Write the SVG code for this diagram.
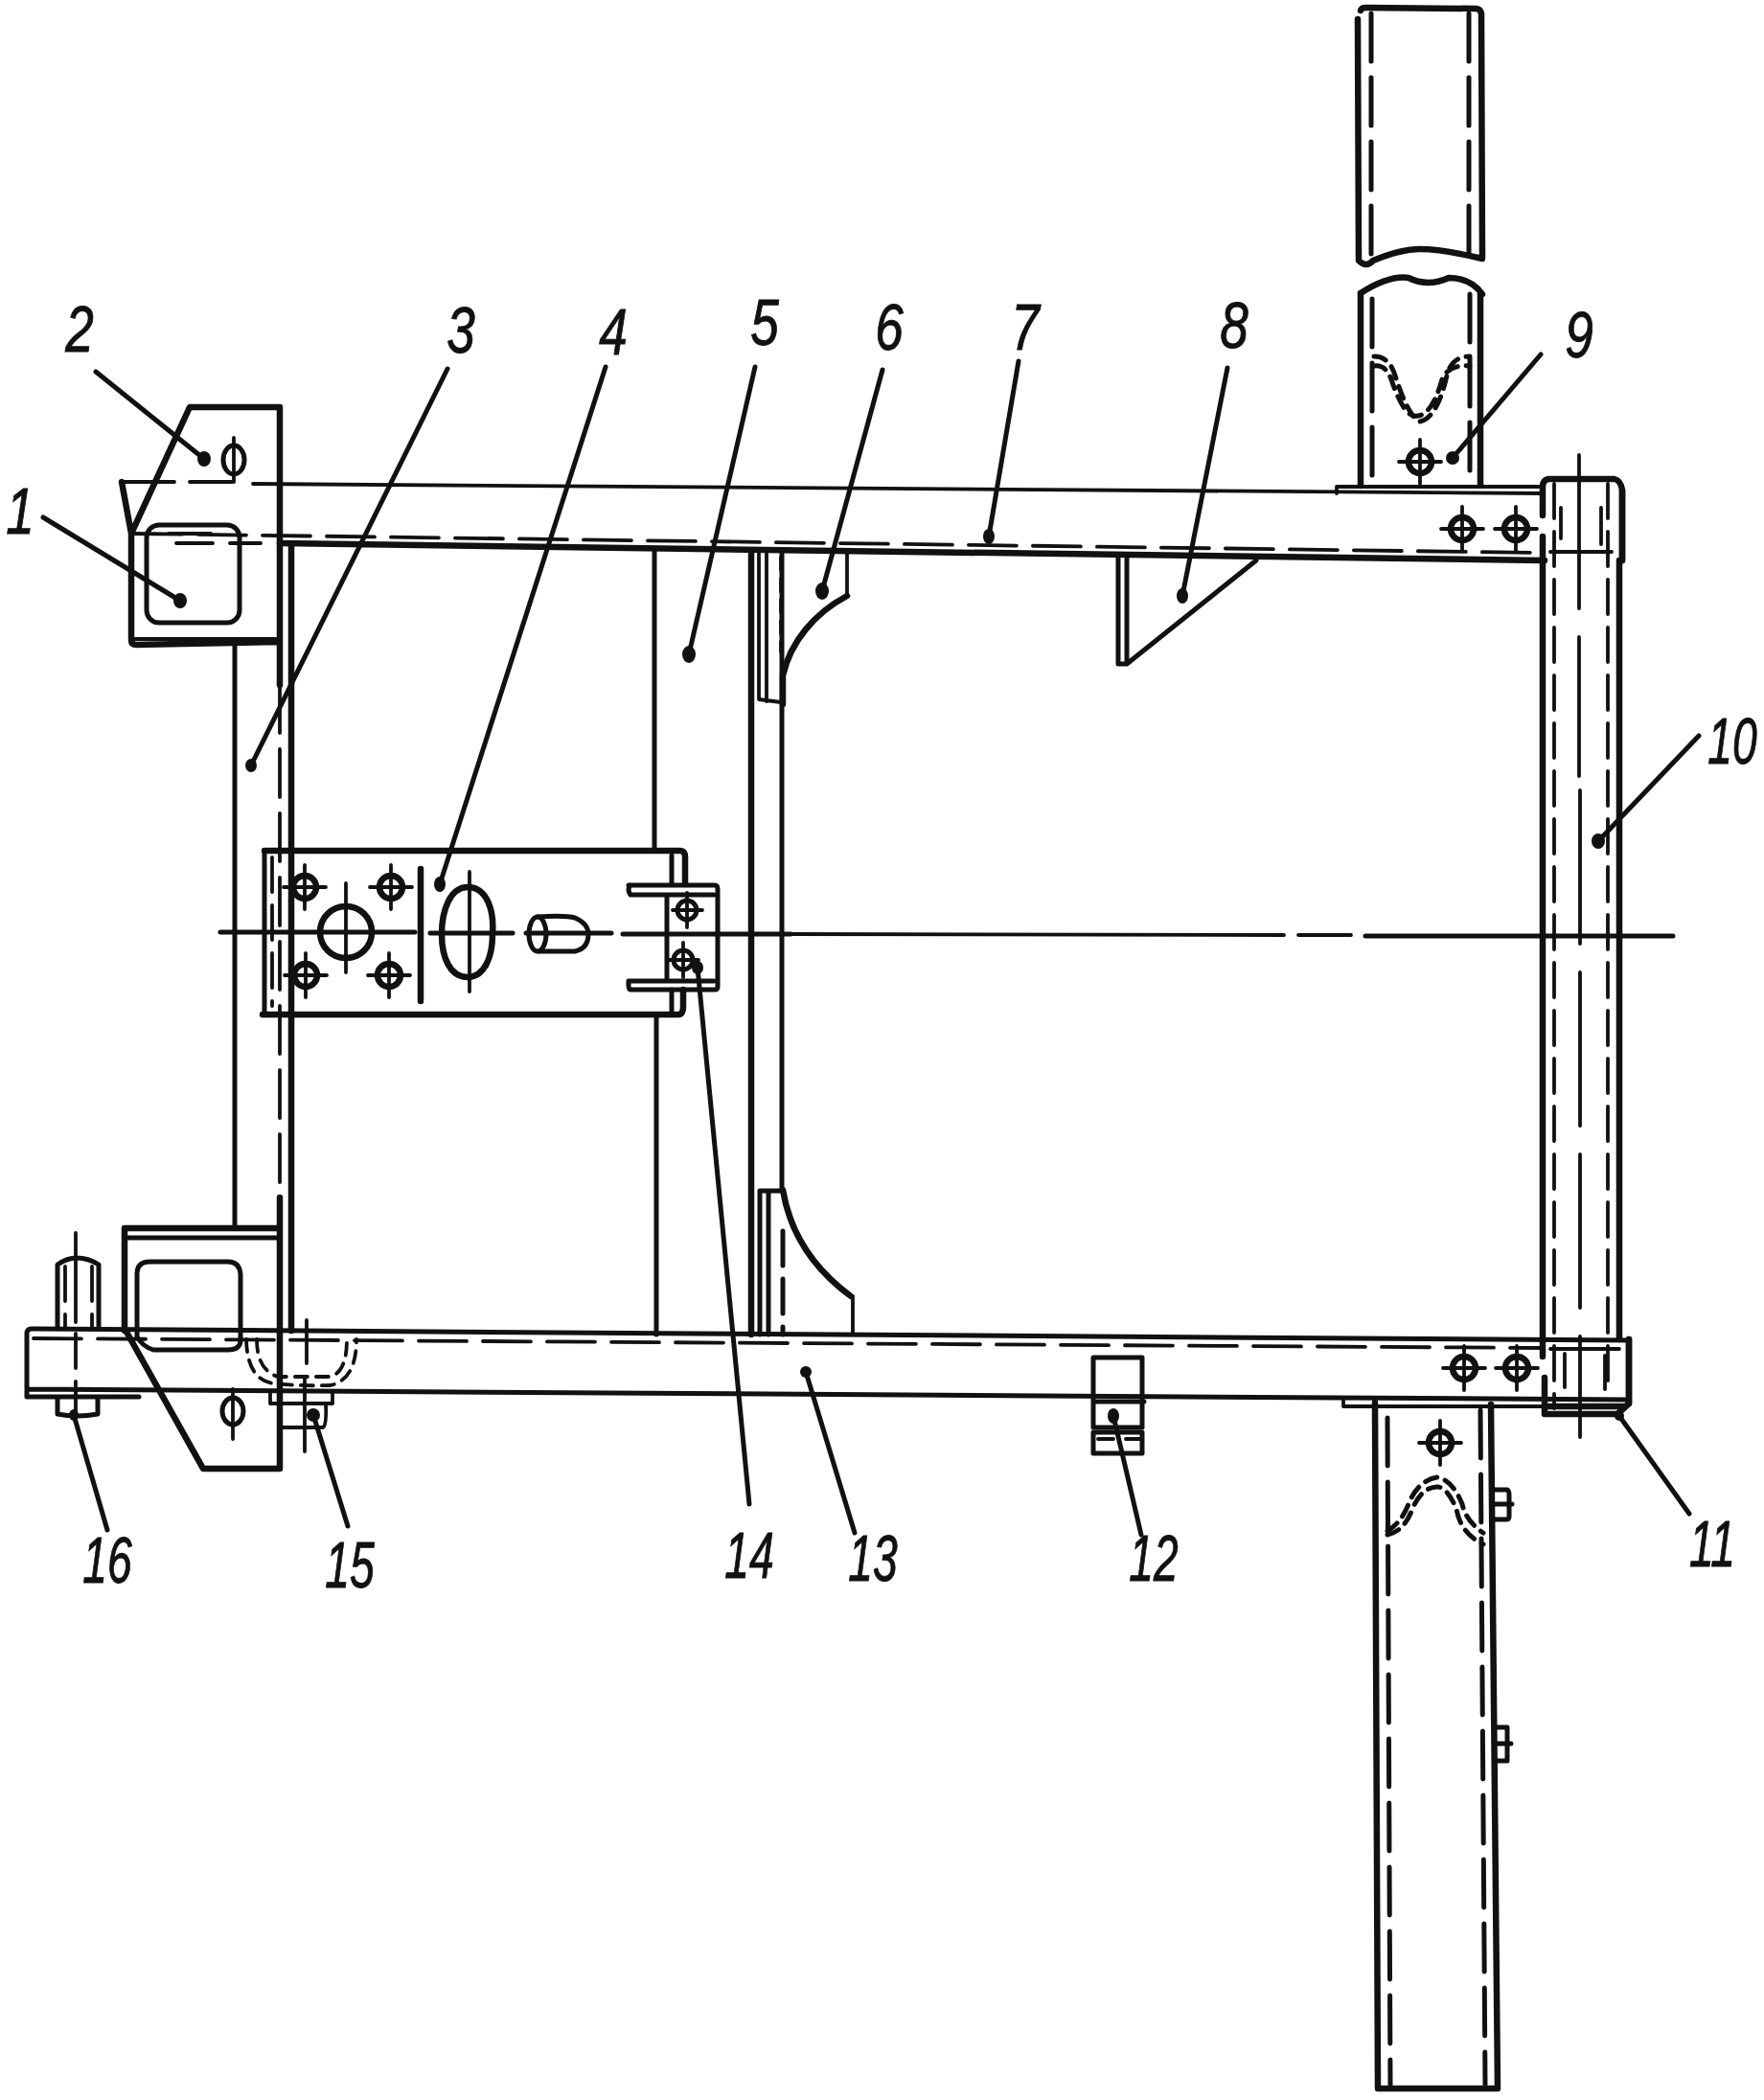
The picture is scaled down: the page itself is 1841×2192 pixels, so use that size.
<svg xmlns="http://www.w3.org/2000/svg" width="1841" height="2192" viewBox="0 0 1841 2192">
<style>
.k{fill:none;stroke:#111;stroke-linecap:round;stroke-linejoin:round}
.a{stroke-width:6.5}.b{stroke-width:5}.c{stroke-width:3.8}
.d{stroke-dasharray:50 17}.e{stroke-dasharray:36 14}.f{stroke-dasharray:13 9}
.dot{fill:#111;stroke:none}
.lab{font-family:"Liberation Sans",Arial,sans-serif;font-style:italic;font-size:68px;fill:#111;text-anchor:middle;stroke:#111;stroke-width:1}
</style>
<defs>
<g id="bolt" class="k"><circle r="12" class="a"/><path class="c" d="M0-23V23M-22 0H22"/></g>
<g id="bolt-s" class="k"><circle r="10" class="b"/><path class="c" d="M0-18V18M-15 0H16"/></g>
</defs>
<rect width="1841" height="2192" fill="#fff"/>
<g id="upper-tube" class="k">
<path class="a" d="M1420 11Q1421 8 1425 8L1540 9Q1545 9 1546 14M1417 20L1418 272Q1426 280 1433 272Q1462 260 1482 260Q1505 260 1547 270L1546 14"/>
<path class="b d" d="M1431 14V266M1533 14V266"/>
<path class="a" d="M1420 306Q1450 287 1470 290Q1490 300 1512 290Q1535 290 1547 307M1420 306V507M1545 307V507"/>
<path class="b d" d="M1432 312V507M1534 307V507"/>
<path class="b f" d="M1434 372Q1450 372 1456 392Q1470 436 1482 440Q1500 436 1510 392Q1515 372 1534 372M1434 382Q1446 380 1452 396Q1466 438 1480 434Q1495 432 1505 396Q1512 380 1534 382"/>
<use href="#bolt" x="1482" y="482"/>
</g>
<g id="lower-tube" class="k">
<path class="a" d="M1435 1464L1438 2180H1563L1556 1466"/>
<path class="b d" d="M1448 1480L1451 2176M1545 1472L1550 2176"/>
<path class="b f" d="M1448 1598Q1462 1590 1470 1570Q1480 1545 1500 1542Q1516 1545 1526 1570Q1530 1588 1548 1600M1448 1602Q1466 1598 1474 1575Q1484 1552 1500 1552Q1510 1552 1520 1575Q1524 1600 1548 1612"/>
<use href="#bolt" x="1503" y="1506"/>
<path class="b" d="M1559 1555H1573Q1575 1556 1575 1560V1583Q1575 1586 1572 1586H1560M1560 1570H1578M1562 1803H1573V1838H1562M1562 1820H1577"/>
</g>
<g id="beam-7" class="k">
<path class="c" d="M127 503H182M198 503H242M264 505L1610 515M1395 515V508H1610"/>
<path class="a" d="M292 567L1612 585"/>
<path class="c d" d="M140 557L1610 577"/>
<use href="#bolt" x="1526" y="552"/><use href="#bolt" x="1582" y="552"/>
</g>
<g id="beam-13" class="k">
<path class="b" d="M28 1458V1392Q28 1387 33 1387L1700 1399M28 1450L1700 1461M30 1458H145"/>
<path class="c d" d="M35 1397L1610 1407"/>
<path class="c" d="M1402 1462V1468H1612"/>
<use href="#bolt" x="1528" y="1428"/><use href="#bolt" x="1583" y="1428"/>
</g>
<g id="frame-10" class="k">
<path class="a" d="M1610 538V508Q1610 501 1616 500H1685Q1692 502 1693 512V585M1610 560V1416M1612 1438V1476H1688L1700 1465V1398M1690 585V1398"/>
<path class="c e" d="M1622 505V1470"/>
<path class="c" d="M1648 475V810M1649 825V1500" stroke-dasharray="160 30"/>
<path class="c e" d="M1678 505V1450"/>
<path class="c" d="M1629 530V562M1671 530V568M1633 1413V1448M1675 1415V1450M1618 576H1682M1618 1408H1690"/>
<path class="a" d="M1612 1468H1695"/>
<path class="a" d="M1693 512V585M1700 1398V1465"/>
</g>
<g id="bracket-upper" class="k">
<path class="a" d="M137 557L198 425H292V715M127 503L137 557V668Q137 673 142 673L290 670"/>
<path class="c" d="M140 667H290"/>
<path class="b" d="M245 673V1282"/>
<path class="a" d="M304 568V1389"/>
<rect class="b" x="153" y="548" width="97" height="102" rx="13"/>
<ellipse class="b" cx="244" cy="480" rx="11" ry="15"/><path class="c" d="M244 457V503"/>
<path class="c" d="M176 557H220M184 567H222M240 567H272"/>
</g>
<g id="bracket-lower" class="k">
<path class="a" d="M292 1250V1533H212L133 1392"/>
<path class="a" d="M130 1389V1282H290"/>
<path class="b" d="M130 1292H290"/>
<path class="c d" d="M292 715V1250"/>
<path class="b" d="M143 1395V1330Q143 1317 156 1317H238Q250 1317 251 1330V1400Q250 1409 238 1409H160Q148 1405 143 1395"/>
<ellipse class="b" cx="243" cy="1473" rx="11" ry="14"/><path class="c" d="M243 1450V1502"/>
<path class="b" d="M60 1385V1320Q70 1313 80 1313Q92 1313 103 1320V1385"/>
<path class="c" d="M79 1287V1380"/>
<path class="c e" d="M68 1322V1385M96 1322V1385M79 1392V1477"/>
<path class="b" d="M60 1460V1476Q80 1480 102 1476V1460"/>
<path class="c f" d="M257 1398Q258 1440 285 1444Q315 1447 345 1446Q372 1440 372 1398M268 1398Q268 1430 290 1437H345Q362 1432 362 1398"/>
<path class="c" d="M282 1452V1465H347V1452M292 1465V1490H337Q341 1488 340 1465"/>
<path class="c" d="M320 1378V1423M318 1438V1515"/>
</g>
<g id="plate-4" class="k">
<path class="a" d="M276 888H710Q715 888 715 895V922M274 1059H708Q713 1059 713 1050V1033"/>
<path class="b" d="M276 888V1059M701 893V922M701 1033V1055"/>
<path class="c e" d="M284 895V1050"/>
<path class="b" d="M656 924H746Q749 924 749 928V1030Q749 1033 746 1033H658Q656 1033 656 1028V1024H745M658 924Q654 928 658 934H745M696 934V1022"/>
<use href="#bolt" x="318" y="926"/><use href="#bolt" x="408" y="926"/>
<use href="#bolt" x="319" y="1018"/><use href="#bolt" x="406" y="1018"/>
<use href="#bolt-s" x="717" y="950"/>
<use href="#bolt-s" x="713" y="1002"/>
<circle class="a" cx="361" cy="973" r="27"/><path class="c" d="M361 922V1015"/>
<path class="a" d="M439 907V1045"/>
<path class="a" d="M488 926C508 926 516 950 514 975C514 1000 505 1020 488 1020C470 1020 461 1000 461 975C461 950 470 926 488 926Z"/>
<path class="c" d="M490 910V1035"/>
<path class="b" d="M561 957Q590 955 600 958Q614 964 614 975Q614 990 600 993H562"/>
<ellipse class="b" cx="561" cy="975" rx="9" ry="18"/>
<path class="b" d="M230 973H433M449 974H535M549 974H638M650 975H825M1425 977H1746"/>
<path class="c" d="M825 975L1340 976M1355 976H1410"/>
</g>
<g id="member-5" class="k">
<path class="b" d="M683 573V888M685 1059V1393"/>
<path class="a" d="M784 578V1393"/>
<path class="b" d="M816 578V1242"/>
<path class="c" d="M792 578V730L815 733M800 578V732"/>
</g>
<g id="gusset-6" class="k">
<path class="c" d="M884 578V622"/>
<path class="a" d="M884 622C850 640 825 670 817 705V735"/>
<path class="c f" d="M815 582V680"/>
<path class="b" d="M793 1393V1243H817M802 1245V1393"/>
<path class="a" d="M817 1242C825 1290 850 1325 888 1353"/>
<path class="c" d="M890 1353V1393"/>
<path class="b e" d="M817 1285V1393"/>
</g>
<g id="gusset-8" class="k">
<path class="b" d="M1167 582V693H1176L1311 585M1176 582V693"/>
</g>
<g id="clip-12" class="k">
<path class="b" d="M1141 1490V1417H1192V1490H1141M1141 1463H1194"/>
<path class="b" d="M1141 1495V1517H1192V1495Z"/>
<path class="c" d="M1146 1502H1162M1175 1502H1190"/>
</g>
<g id="connectors">
<path class="k b" d="M45 540L188 627M100 388L213 479M467 385L262 799M632 383L459 923M788 383L719 683M921 386L858 617M1063 377L1032 560M1281 384L1234 622M1608 370L1516 478M1773 768L1668 878M1690 1478L1763 1580M1191 1602L1162 1478M892 1600L841 1432M782 1570L728 1010M363 1593L327 1477M112 1597L77 1477"/>
<g class="dot"><ellipse cx="188" cy="627" rx="7" ry="8"/><ellipse cx="213" cy="479" rx="7" ry="8"/><ellipse cx="262" cy="799" rx="6" ry="7"/><ellipse cx="459" cy="923" rx="6" ry="8"/><ellipse cx="719" cy="683" rx="7" ry="9"/><ellipse cx="858" cy="617" rx="7" ry="9"/><ellipse cx="1032" cy="560" rx="6" ry="8"/><ellipse cx="1234" cy="622" rx="6" ry="8"/><ellipse cx="1516" cy="478" rx="7" ry="7"/><ellipse cx="1668" cy="878" rx="7" ry="8"/><ellipse cx="1162" cy="1478" rx="6" ry="8"/><ellipse cx="841" cy="1432" rx="6" ry="6"/><ellipse cx="728" cy="1010" rx="6" ry="7"/><ellipse cx="327" cy="1477" rx="7" ry="7"/><ellipse cx="77" cy="1477" rx="5" ry="6"/><ellipse cx="1690" cy="1478" rx="5" ry="5"/></g>
</g>
<g id="labels">
<text class="lab" transform="translate(21 557) scale(.78 1)">1</text>
<text class="lab" transform="translate(83 367) scale(.78 1)">2</text>
<text class="lab" transform="translate(481 368) scale(.78 1)">3</text>
<text class="lab" transform="translate(640 370) scale(.78 1)">4</text>
<text class="lab" transform="translate(798 360) scale(.78 1)">5</text>
<text class="lab" transform="translate(928 365) scale(.78 1)">6</text>
<text class="lab" transform="translate(1070 365) scale(.78 1)">7</text>
<text class="lab" transform="translate(1288 363) scale(.78 1)">8</text>
<text class="lab" transform="translate(1648 373) scale(.78 1)">9</text>
<text class="lab" transform="translate(1808 797) scale(.68 1)">10</text>
<text class="lab" transform="translate(1787 1635) scale(.68 1)">11</text>
<text class="lab" transform="translate(1204 1650) scale(.68 1)">12</text>
<text class="lab" transform="translate(911 1650) scale(.68 1)">13</text>
<text class="lab" transform="translate(782 1647) scale(.68 1)">14</text>
<text class="lab" transform="translate(365 1657) scale(.68 1)">15</text>
<text class="lab" transform="translate(112 1652) scale(.68 1)">16</text>
</g>
</svg>
